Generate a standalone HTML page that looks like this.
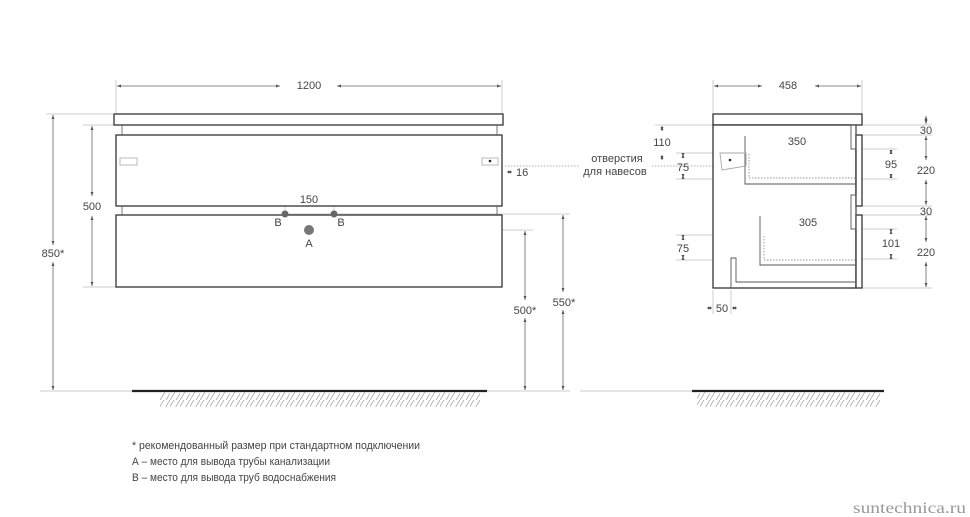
<!DOCTYPE html>
<html><head><meta charset="utf-8"><style>
html,body{margin:0;padding:0;background:#fff;width:970px;height:517px;overflow:hidden}
svg{display:block}
text{font-family:"Liberation Sans",sans-serif;fill:#444;font-size:11px}
</style></head><body>
<svg width="970" height="517" viewBox="0 0 970 517" xmlns="http://www.w3.org/2000/svg">
<defs>
<marker id="a" viewBox="0 0 6 6" refX="6" refY="3" markerWidth="5" markerHeight="5" orient="auto-start-reverse"><path d="M0,0.8L6,3L0,5.2z" fill="#555"/></marker>
<pattern id="h" width="10" height="16" patternUnits="userSpaceOnUse"><path d="M10,0L0,16M4,0L-6,16M16,0L6,16" stroke="#999" stroke-width="0.7"/></pattern>
</defs>
<g stroke="#bbb" stroke-width="0.7" fill="none">
<line x1="116" y1="80" x2="116" y2="113"/><line x1="502" y1="80" x2="502" y2="113"/>
<line x1="46" y1="114" x2="113" y2="114"/>
<line x1="83" y1="125" x2="116" y2="125"/><line x1="83" y1="287" x2="116" y2="287"/>
<line x1="40" y1="391" x2="570" y2="391"/>
<line x1="285" y1="195" x2="285" y2="214"/><line x1="334" y1="195" x2="334" y2="214"/>
<line x1="285" y1="214" x2="570" y2="214"/><line x1="309" y1="230" x2="533" y2="230"/>
<line x1="498" y1="170" x2="498" y2="176"/><line x1="502" y1="170" x2="502" y2="176"/>
<line x1="713" y1="80" x2="713" y2="113"/><line x1="862" y1="80" x2="862" y2="113"/>
<line x1="655" y1="125" x2="713" y2="125"/>
<line x1="676" y1="153" x2="856" y2="153"/><line x1="676" y1="179" x2="749" y2="179"/>
<line x1="676" y1="235" x2="856" y2="235"/><line x1="676" y1="260" x2="760" y2="260"/>
<line x1="862" y1="125" x2="932" y2="125"/><line x1="862" y1="135" x2="932" y2="135"/>
<line x1="862" y1="206" x2="932" y2="206"/><line x1="862" y1="215" x2="932" y2="215"/>
<line x1="862" y1="288" x2="932" y2="288"/>
<line x1="856" y1="149" x2="897" y2="149"/><line x1="856" y1="179" x2="897" y2="179"/>
<line x1="856" y1="229" x2="897" y2="229"/><line x1="856" y1="259" x2="897" y2="259"/>
<line x1="745" y1="135" x2="745" y2="146"/><line x1="760" y1="216" x2="760" y2="227"/>
<line x1="713" y1="290" x2="713" y2="314"/><line x1="731" y1="290" x2="731" y2="314"/>
<line x1="580" y1="391" x2="700" y2="391"/>
</g>
<g stroke="#999" stroke-width="0.7" stroke-dasharray="1.5,1.5"><line x1="505" y1="166" x2="580" y2="166"/><line x1="652" y1="166" x2="720" y2="166"/></g>
<g stroke="#666" stroke-width="0.8" fill="none" marker-start="url(#a)" marker-end="url(#a)">
<line x1="117" y1="86" x2="280" y2="86" marker-end=""/><line x1="337" y1="86" x2="501" y2="86" marker-start=""/>
<line x1="53" y1="115" x2="53" y2="245" marker-end=""/><line x1="53" y1="262" x2="53" y2="390" marker-start=""/>
<line x1="92" y1="126" x2="92" y2="196" marker-end=""/><line x1="92" y1="216" x2="92" y2="286" marker-start=""/>
<line x1="286" y1="199" x2="295" y2="199" marker-start=""/><line x1="324" y1="199" x2="333" y2="199" marker-start=""/>
<line x1="525" y1="231" x2="525" y2="300" marker-end=""/><line x1="525" y1="318" x2="525" y2="390" marker-start=""/>
<line x1="563" y1="215" x2="563" y2="292" marker-end=""/><line x1="563" y1="310" x2="563" y2="390" marker-start=""/>
<line x1="507" y1="172" x2="512" y2="172" marker-end=""/>
<line x1="714" y1="86" x2="762" y2="86" marker-end=""/><line x1="815" y1="86" x2="861" y2="86" marker-start=""/>
<line x1="662" y1="126" x2="662" y2="131" marker-end=""/><line x1="662" y1="155" x2="662" y2="160" marker-start=""/>
<line x1="683" y1="154" x2="683" y2="157" marker-end=""/><line x1="683" y1="175" x2="683" y2="178" marker-start=""/>
<line x1="683" y1="236" x2="683" y2="239" marker-end=""/><line x1="683" y1="256" x2="683" y2="259" marker-start=""/>
<line x1="746" y1="141" x2="780" y2="141" marker-end=""/><line x1="815" y1="141" x2="849" y2="141" marker-start=""/>
<line x1="761" y1="222" x2="790" y2="222" marker-end=""/><line x1="825" y1="222" x2="852" y2="222" marker-start=""/>
<line x1="891" y1="150" x2="891" y2="154" marker-end=""/><line x1="891" y1="174" x2="891" y2="178" marker-start=""/>
<line x1="891" y1="230" x2="891" y2="233" marker-end=""/><line x1="891" y1="255" x2="891" y2="258" marker-start=""/>
<line x1="926" y1="116" x2="926" y2="124" marker-start=""/><line x1="926" y1="136" x2="926" y2="160" marker-end=""/>
<line x1="926" y1="180" x2="926" y2="205" marker-start=""/><line x1="926" y1="216" x2="926" y2="242" marker-end=""/>
<line x1="926" y1="262" x2="926" y2="287" marker-start=""/>
<line x1="707" y1="308" x2="712" y2="308" marker-end=""/><line x1="737" y1="308" x2="732" y2="308" marker-end=""/>
</g>
<g stroke="#333" stroke-width="1.3" fill="#fff">
<rect x="114" y="114" width="389" height="11"/>
<rect x="116" y="135" width="386" height="71"/>
<rect x="116" y="215" width="386" height="72"/>
</g>
<g stroke="#555" stroke-width="0.8" fill="none">
<line x1="122" y1="125" x2="122" y2="135"/><line x1="497" y1="125" x2="497" y2="135"/>
<line x1="122" y1="206" x2="122" y2="215"/><line x1="497" y1="206" x2="497" y2="215"/>
<rect x="120" y="158" width="17" height="7" stroke="#aaa"/><rect x="482" y="158" width="16" height="7" stroke="#aaa"/>
</g>
<circle cx="490" cy="161" r="1.3" fill="#222"/>
<circle cx="285" cy="214" r="3.5" fill="#666"/><circle cx="334" cy="214" r="3.5" fill="#666"/>
<circle cx="309" cy="230" r="5" fill="#777"/>
<line x1="132" y1="391" x2="487" y2="391" stroke="#222" stroke-width="2.2"/>
<rect x="160" y="392" width="320" height="15" fill="url(#h)"/>
<g stroke="#333" stroke-width="1.3" fill="#fff">
<rect x="713" y="114" width="149" height="11"/>
<rect x="713" y="125" width="143" height="163" />
<rect x="856" y="135" width="6" height="71"/>
<rect x="856" y="215" width="6" height="73"/>
</g>
<g stroke="#555" stroke-width="0.9" fill="none">
<path d="M745,136V184H856"/>
<path d="M760,216V265H856"/>
<path d="M731,288V258H736V282H856"/>
<rect x="851" y="125" width="5" height="24"/><rect x="851" y="195" width="5" height="34"/>
<path d="M720,153H746V166L722,170Z" stroke="#aaa"/>
</g>
<g stroke="#777" stroke-width="0.7" stroke-dasharray="1.5,1.5" fill="none"><path d="M749,154V178H856"/><path d="M764,236V260H856"/></g>
<circle cx="730" cy="160" r="1.3" fill="#222"/>
<line x1="692" y1="391" x2="884" y2="391" stroke="#222" stroke-width="2.2"/>
<rect x="697" y="392" width="183" height="15" fill="url(#h)"/>
<g text-anchor="middle">
<text x="309" y="89">1200</text><text x="53" y="257">850*</text><text x="92" y="210">500</text>
<text x="309" y="203">150</text><text x="278" y="226">B</text><text x="341" y="226">B</text><text x="309" y="247">A</text>
<text x="525" y="314">500*</text><text x="564" y="306">550*</text>
<text x="788" y="89">458</text><text x="662" y="146">110</text><text x="683" y="171">75</text><text x="683" y="252">75</text>
<text x="797" y="145">350</text><text x="808" y="226">305</text><text x="891" y="168">95</text><text x="891" y="247">101</text>
<text x="926" y="134">30</text><text x="926" y="174">220</text><text x="926" y="215">30</text><text x="926" y="256">220</text>
<text x="722" y="312">50</text>
<text x="617" y="162">отверстия</text><text x="615" y="175">для навесов</text>
</g>
<text x="516" y="176">16</text>
<g style="font-size:9.2px"><text x="132" y="449" textLength="288" lengthAdjust="spacingAndGlyphs">* рекомендованный размер при стандартном подключении</text>
<text x="132" y="465" textLength="198" lengthAdjust="spacingAndGlyphs">А – место для вывода трубы канализации</text>
<text x="132" y="481" textLength="204" lengthAdjust="spacingAndGlyphs">В – место для вывода труб водоснабжения</text></g>
<text x="853" y="513" textLength="113" lengthAdjust="spacingAndGlyphs" style="font-family:'Liberation Serif',serif;font-size:16px;fill:#999">suntechnica.ru</text>
</svg>
</body></html>
